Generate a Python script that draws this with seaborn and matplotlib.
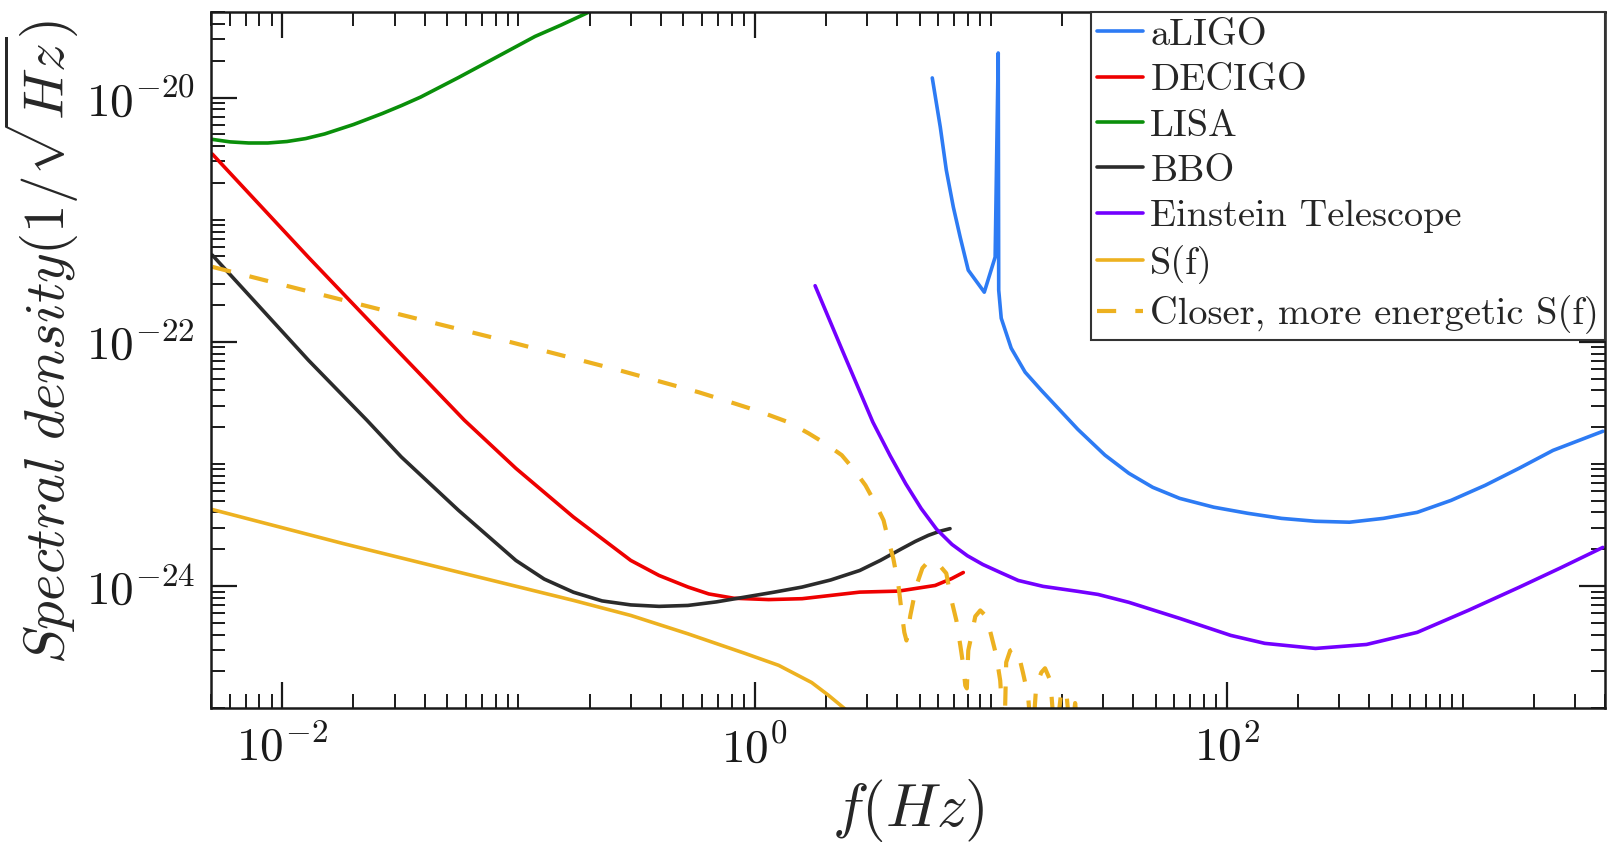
import numpy as np
import matplotlib
matplotlib.use("Agg")
import matplotlib.pyplot as plt
import matplotlib.ticker as mticker
import seaborn as sns

# values (frequency in Hz, amplitude in 1/sqrt(Hz))
aligo_f = [5.66, 6.12, 6.49, 6.95, 7.43, 8.04, 9.40, 10.45, 10.77, 10.82, 11.09, 12.22, 14.0,
           16.37, 23.4, 30.5, 38.5, 48.6, 63.2, 88.1, 122.7, 170.6, 237.7, 331, 461, 641, 893,
           1245, 1730, 2410, 3920]
aligo_s = [1.45e-20, 5.74e-21, 2.55e-21, 1.27e-21, 7.21e-22, 3.86e-22, 2.55e-22, 4.94e-22,
           2.32e-20, 2.65e-22, 1.56e-22, 8.87e-23, 5.64e-23, 4.02e-23, 1.92e-23, 1.18e-23,
           8.38e-24, 6.43e-24, 5.22e-24, 4.42e-24, 3.94e-24, 3.58e-24, 3.39e-24, 3.33e-24,
           3.58e-24, 4.01e-24, 5.03e-24, 6.68e-24, 9.2e-24, 1.29e-23, 1.85e-23]

decigo_f = [5.05e-3, 1.29e-2, 3.13e-2, 5.9e-2, 9.75e-2, 0.171, 0.299, 0.394, 0.523, 0.640,
            0.817, 1.148, 1.59, 2.79, 4.07, 5.82, 6.84, 7.66]
decigo_s = [3.45e-21, 4.92e-22, 8.17e-23, 2.28e-23, 9.2e-24, 3.67e-24, 1.62e-24, 1.22e-24,
            9.8e-25, 8.61e-25, 7.94e-25, 7.74e-25, 7.87e-25, 8.91e-25, 9.08e-25, 1.01e-24,
            1.15e-24, 1.29e-24]

lisa_f = [5.05e-3, 6.0e-3, 7.2e-3, 8.68e-3, 1.045e-2, 1.255e-2, 1.51e-2, 2.0e-2, 2.65e-2,
          3.2e-2, 3.85e-2, 5.57e-2, 8.09e-2, 0.1175, 0.152, 0.198]
lisa_s = [4.55e-21, 4.34e-21, 4.25e-21, 4.25e-21, 4.37e-21, 4.62e-21, 5.04e-21, 6.02e-21,
          7.41e-21, 8.62e-21, 1.01e-20, 1.46e-20, 2.15e-20, 3.17e-20, 3.94e-20, 5.0e-20]

bbo_f = [5.05e-3, 1.29e-2, 2.28e-2, 3.19e-2, 5.57e-2, 9.75e-2, 0.1285, 0.171, 0.226, 0.299,
         0.394, 0.522, 0.689, 0.909, 1.205, 1.59, 2.10, 2.79, 3.41, 4.20, 4.80, 5.45, 6.06,
         6.73]
bbo_s = [5.13e-22, 7.06e-23, 2.28e-23, 1.14e-23, 4.17e-24, 1.62e-24, 1.14e-24, 8.89e-25,
         7.55e-25, 7.0e-25, 6.81e-25, 6.93e-25, 7.41e-25, 8.11e-25, 8.89e-25, 9.8e-25,
         1.12e-24, 1.34e-24, 1.62e-24, 2.02e-24, 2.32e-24, 2.60e-24, 2.80e-24, 2.95e-24]

et_f = [1.805, 2.35, 3.17, 3.76, 4.37, 5.08, 5.90, 6.86, 7.97, 9.27, 11.0, 13.09, 16.68, 23.4,
        28.5, 38.5, 63.2, 104, 145, 237.7, 391, 641, 1054, 1730, 2580, 3920]
et_s = [2.88e-22, 8.57e-23, 2.20e-23, 1.16e-23, 6.87e-24, 4.31e-24, 2.92e-24, 2.19e-24,
        1.77e-24, 1.50e-24, 1.29e-24, 1.11e-24, 9.93e-25, 9.04e-25, 8.53e-25, 7.35e-25,
        5.43e-25, 3.94e-25, 3.39e-25, 3.08e-25, 3.32e-25, 4.17e-25, 6.31e-25, 9.75e-25,
        1.40e-24, 2.07e-24]

sf_f = [5.05e-3, 1.82e-2, 5.57e-2, 0.171, 0.299, 0.522, 0.909, 1.265, 1.745, 2.06, 2.43]
sf_s = [4.23e-24, 2.22e-24, 1.30e-24, 7.62e-25, 5.74e-25, 4.06e-25, 2.81e-25, 2.24e-25,
        1.62e-25, 1.27e-25, 9.75e-26]

close_f = [5.05e-3, 1.184e-2, 3.13e-2, 8.30e-2, 0.1837, 0.267, 0.394, 0.581, 0.817, 1.042,
           1.396, 1.694, 1.98, 2.34, 2.63, 2.95, 3.25, 3.52, 3.69, 3.87, 4.07, 4.19, 4.31,
           4.40, 4.57, 4.85, 5.14, 5.45, 5.78, 6.12, 6.49, 6.75, 7.16, 7.44, 7.66, 7.81, 7.93,
           8.04, 8.28, 8.61, 9.04, 9.58, 10.06, 10.56, 10.98, 11.42, 11.64, 12.1, 12.6, 13.1,
           13.7, 14.4, 15.0, 15.6, 16.4, 17.0, 17.9, 18.8, 19.9, 20.9, 21.9, 22.8, 23.7]
close_s = [4.11e-22, 2.70e-22, 1.68e-22, 1.05e-22, 7.06e-23, 5.85e-23, 4.75e-23, 3.86e-23,
           3.14e-23, 2.70e-23, 2.19e-23, 1.78e-23, 1.48e-23, 1.18e-23, 9.04e-24, 6.68e-24,
           4.75e-24, 3.45e-24, 2.37e-24, 1.68e-24, 1.01e-24, 6.31e-25, 4.17e-25, 3.58e-25,
           5.74e-25, 1.01e-24, 1.40e-24, 1.59e-24, 1.59e-24, 1.45e-24, 1.27e-24, 8.38e-25,
           5.22e-25, 3.26e-25, 2.23e-25, 1.53e-25, 1.45e-25, 2.96e-25, 3.86e-25, 5.64e-25,
           6.31e-25, 5.64e-25, 3.94e-25, 2.71e-25, 1.68e-25, 5e-26, 2.37e-25, 2.96e-25,
           3.08e-25, 2.81e-25, 1.96e-25, 1.27e-25, 5e-26, 1.53e-25, 1.96e-25, 2.12e-25,
           1.68e-25, 5e-26, 1.35e-25, 1.4e-25, 5e-26, 1.1e-25, 5e-26]

labels = ["aLIGO", "DECIGO", "LISA", "BBO", "Einstein Telescope", "S(f)",
          "Closer, more energetic S(f)"]
colors = ["#2d7bf4", "#ee0000", "#0a8f0a", "#2b2b2b", "#7300ff", "#edb120", "#edb120"]
x_ticks = [1e-2, 1e0, 1e2]
y_ticks = [1e-24, 1e-22, 1e-20]

sns.set_style("ticks")
plt.rcParams.update({
    "font.family": "serif",
    "font.serif": ["cmr10"],
    "mathtext.fontset": "cm",
    "axes.formatter.use_mathtext": True,
})

fig = plt.figure(figsize=(16.13, 8.47), dpi=100)
ax = fig.add_axes([0.131, 0.164, 0.864, 0.8215])

curves = [(aligo_f, aligo_s), (decigo_f, decigo_s), (lisa_f, lisa_s), (bbo_f, bbo_s),
          (et_f, et_s), (sf_f, sf_s), (close_f, close_s)]
for (f, s), lab, col in zip(curves, labels, colors):
    if lab.startswith("Closer"):
        sns.lineplot(x=f, y=s, ax=ax, color=col, lw=3.0, linestyle=(0, (4.6, 4.6)),
                     label=lab, sort=False, estimator=None)
    else:
        sns.lineplot(x=f, y=s, ax=ax, color=col, lw=2.6, label=lab, sort=False,
                     estimator=None)

ax.set_xscale("log")
ax.set_yscale("log")
ax.set_xlim(5e-3, 4e3)
ax.set_ylim(1e-25, 5e-20)

ax.xaxis.set_major_locator(mticker.FixedLocator(x_ticks))
ax.yaxis.set_major_locator(mticker.FixedLocator(y_ticks))
for axis in (ax.xaxis, ax.yaxis):
    axis.set_major_formatter(mticker.LogFormatterSciNotation())
    axis.set_minor_locator(mticker.LogLocator(base=10, subs=np.arange(1, 10), numticks=100))
    axis.set_minor_formatter(mticker.NullFormatter())

ax.tick_params(which="both", direction="in", top=True, right=True, colors="#1a1a1a")
ax.tick_params(which="major", length=19, width=1.6, labelsize=34, pad=12)
ax.tick_params(which="minor", length=10, width=1.4)
for sp in ax.spines.values():
    sp.set_linewidth(1.8)
    sp.set_color("#1a1a1a")

ax.set_xlabel(r"$f(Hz)$", fontsize=44)
ax.set_ylabel(r"$Spectral\ density(1/\sqrt{Hz})$", fontsize=41)
ax.yaxis.label.set_y(0.526)

leg = ax.legend(loc="upper right", borderaxespad=0, fancybox=False, edgecolor="#333333",
                framealpha=1, fontsize=27.6, handlelength=1.2, handletextpad=0.2,
                labelspacing=0.3, borderpad=0.15)
leg.get_frame().set_linewidth(1.5)

fig.savefig("out.png", dpi=100)
